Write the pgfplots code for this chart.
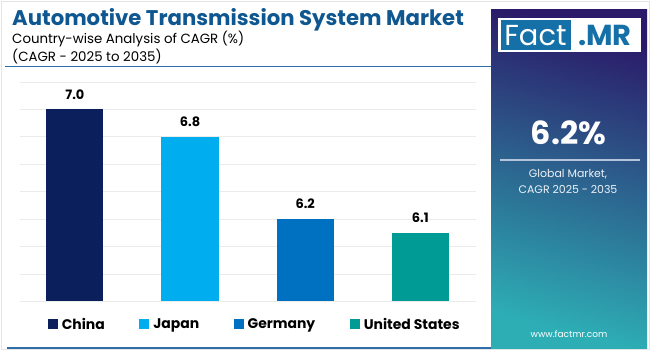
\documentclass[border=0pt]{standalone}
\usepackage{pgfplots}
\pgfplotsset{compat=1.18}
\usepackage{fontspec}
\setmainfont{Poppins}
\definecolor{titleblue}{HTML}{0F5790}
\definecolor{china}{HTML}{0A1F5C}
\definecolor{japan}{HTML}{00AEEF}
\definecolor{germany}{HTML}{0070C0}
\definecolor{usa}{HTML}{009B95}
\definecolor{lineblue}{HTML}{2D6DA8}
\definecolor{logoblue}{HTML}{1570A8}
\definecolor{panTop}{HTML}{2B1A69}
\definecolor{panMid}{HTML}{2A5592}
\definecolor{panBot}{HTML}{2DAEB5}
\begin{document}
\begin{tikzpicture}[x=1bp,y=1bp]
\useasboundingbox (0,0) rectangle (650,350);
\fill[white] (0,0) rectangle (650,350);
\draw[black!10, line width=0.8bp] (1,1) rectangle (649,349);
% title
\node[anchor=base west, inner sep=0pt, text=titleblue, font=\fontsize{21.3}{25}\selectfont\bfseries] at (12,325) {Automotive Transmission System Market};
\node[anchor=base west, inner sep=0pt, font=\fontsize{13.4}{16}\selectfont] at (12,307) {Country-wise Analysis of CAGR (\%)};
\node[anchor=base west, inner sep=0pt, font=\fontsize{13.4}{16}\selectfont] at (12,289) {(CAGR - 2025 to 2035)};
\draw[lineblue, line width=1.2bp] (5,283.5) -- (491,283.5);
\draw[lineblue, line width=2bp] (7,2) -- (491,2);
% chart
\begin{axis}[
  at={(17,35.5)}, anchor=south west, scale only axis,
  width=456bp, height=219.4bp,
  xmin=-0.48, xmax=3.48, ymin=5.6, ymax=7.2,
  axis line style={draw=none}, tick style={draw=none},
  xtick=\empty, ytick={5.6,5.8,6.0,6.2,6.4,6.6,6.8,7.0,7.2}, yticklabels={},
  ymajorgrids, grid style={color=black!8, line width=0.7bp},
  ybar, bar width=0.496, bar shift=0pt,
  /pgf/number format/assume math mode=true,
  nodes near coords={\pgfmathprintnumber[fixed,fixed zerofill,precision=1]{\pgfplotspointmeta}},
  every node near coord/.append style={anchor=south, inner sep=0pt, yshift=10bp, text=black, font=\fontsize{13}{15}\selectfont\bfseries},
  legend columns=4,
  legend style={at={(0.0614,-0.105)}, anchor=west, draw=none, fill=none, inner sep=0pt,
    font=\fontsize{14}{17}\selectfont\bfseries,
    /tikz/every odd column/.append style={column sep=4bp},
    /tikz/every even column/.append style={column sep=34.5bp},
    nodes={inner sep=0pt}},
  legend image code/.code={\fill[#1] (0bp,-4.5bp) rectangle (10bp,5bp);},
]
\addplot[fill=china, draw=none] coordinates {(0,7.0)};
\addplot[fill=japan, draw=none] coordinates {(1,6.8)};
\addplot[fill=germany, draw=none] coordinates {(2,6.2)};
\addplot[fill=usa, draw=none] coordinates {(3,6.1)};
\legend{China,Japan,Germany,United States}
\end{axis}
% right panel
\shade[top color=panTop, middle color=panMid, bottom color=panBot, shading angle=-15] (491,2) rectangle (647,340);
\fill[white] (498,298) rectangle (641,332);
\fill[logoblue] (500.5,300) rectangle (571,329.5);
\node[text=white, inner sep=0pt, font=\fontsize{29}{30}\selectfont] at (535.5,314.5) {Fact};
\node[text=logoblue, inner sep=0pt, font=\fontsize{29}{30}\selectfont\bfseries] at (605,314.5) {.MR};
\node[text=white, inner sep=0pt, font=\fontsize{32}{34}\selectfont\bfseries] at (568.5,217) {6.2\%};
\draw[white!65!panMid, line width=1.5bp] (500,190) -- (640,190);
\node[text=white!92!panMid, inner sep=0pt, font=\fontsize{11}{13}\selectfont] at (568,176) {Global Market,};
\node[text=white!92!panMid, inner sep=0pt, font=\fontsize{11}{13}\selectfont] at (568,161) {CAGR 2025 - 2035};
\node[text=white, inner sep=0pt, font=\fontsize{9}{11}\selectfont] at (569,16) {www.factmr.com};
\end{tikzpicture}
\end{document}
